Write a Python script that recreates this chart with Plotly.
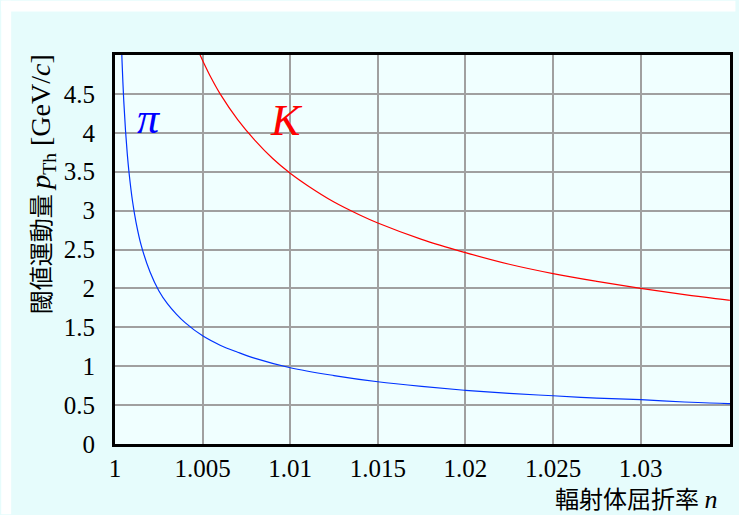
import plotly.graph_objects as go

# ---- data ----
pi_n = [1.00035, 1.0004, 1.0005, 1.0006, 1.0007, 1.0008, 1.001, 1.0012, 1.0015, 1.002,
        1.0025, 1.003, 1.0035, 1.004, 1.005, 1.006, 1.007, 1.008, 1.01, 1.0125, 1.015,
        1.0175, 1.02, 1.0225, 1.025, 1.0275, 1.03, 1.0325, 1.035, 1.0355]
pi_p = [5.28, 4.93, 4.41, 4.03, 3.73, 3.49, 3.12, 2.85, 2.55, 2.21,
        1.97, 1.80, 1.67, 1.56, 1.39, 1.27, 1.18, 1.10, 0.98, 0.88, 0.80,
        0.74, 0.69, 0.65, 0.62, 0.59, 0.57, 0.54, 0.52, 0.52]

k_n = [1.0048, 1.005, 1.0055, 1.006, 1.007, 1.008, 1.009, 1.01, 1.011, 1.0125, 1.014,
       1.015, 1.0175, 1.02, 1.0225, 1.025, 1.0275, 1.03, 1.0325, 1.035, 1.0355]
k_p = [5.03, 4.93, 4.70, 4.50, 4.17, 3.90, 3.67, 3.48, 3.32, 3.11, 2.94,
       2.84, 2.63, 2.46, 2.31, 2.19, 2.09, 2.00, 1.92, 1.85, 1.84]

x_ticks = [1, 1.005, 1.01, 1.015, 1.02, 1.025, 1.03]
x_labels = ["1", "1.005", "1.01", "1.015", "1.02", "1.025", "1.03"]
y_ticks = [0, 0.5, 1, 1.5, 2, 2.5, 3, 3.5, 4, 4.5]
y_labels = ["0", "0.5", "1", "1.5", "2", "2.5", "3", "3.5", "4", "4.5"]

# ---- layout geometry ----
W, H = 739, 515
L, R, T, B = 114.5, 5.5, 54.5, 70.5
PW, PH = W - L - R, H - T - B


def px(x):
    return (x - L) / PW


def py(y):
    return (H - B - y) / PH


SERIF = "Liberation Serif"
CJK = "Noto Sans CJK JP"
tickfont = dict(family="Liberation Serif, serif", size=25, color="black")

fig = go.Figure()
fig.add_trace(go.Scatter(x=pi_n, y=pi_p, mode="lines", line=dict(color="#0033ff", width=1.2, shape="spline"),
                         showlegend=False, hoverinfo="skip"))
fig.add_trace(go.Scatter(x=k_n, y=k_p, mode="lines", line=dict(color="#ff0000", width=1.2, shape="spline"),
                         showlegend=False, hoverinfo="skip"))

fig.update_layout(
    width=W, height=H,
    margin=dict(l=L, r=R, t=T, b=B, pad=0),
    paper_bgcolor="#e6fcfc",
    plot_bgcolor="#f0ffff",
    font=dict(family=SERIF, size=25, color="black"),
    xaxis=dict(range=[1, 1.0351], tickvals=x_ticks, ticktext=x_labels, showgrid=True, tickfont=tickfont,
               gridcolor="#a0a0a0", gridwidth=1.5, zeroline=False, showline=True, mirror=True,
               linecolor="black", linewidth=3.2, ticks="", ticklabelstandoff=0, fixedrange=True),
    yaxis=dict(range=[0, 5], tickvals=y_ticks, ticktext=y_labels, showgrid=True, tickfont=tickfont,
               gridcolor="#a0a0a0", gridwidth=1.5, zeroline=False, showline=True, mirror=True,
               linecolor="black", linewidth=3.2, ticks="", ticklabelstandoff=12, fixedrange=True),
    shapes=[
        dict(type="rect", xref="paper", yref="paper", x0=px(0), x1=px(W), y0=py(0), y1=py(11),
             fillcolor="white", line=dict(width=0), layer="below"),
        dict(type="rect", xref="paper", yref="paper", x0=px(0), x1=px(10), y0=py(0), y1=py(H),
             fillcolor="white", line=dict(width=0), layer="below"),
    ],
    annotations=[
        dict(text="<i>π</i>", x=1.00196, y=4.18, xref="x", yref="y", showarrow=False,
             font=dict(family=SERIF, size=44, color="#0000ff"), xanchor="center", yanchor="middle"),
        dict(text="<i>K</i>", x=1.00978, y=4.16, xref="x", yref="y", showarrow=False,
             font=dict(family=SERIF, size=44, color="#ff0000"), xanchor="center", yanchor="middle"),
        dict(text="閾値運動量 <span style='font-family:Liberation Serif;font-size:28px'><i>p</i><sub>Th</sub> [GeV/<i>c</i>]</span>",
             x=px(40), y=py(184), xref="paper", yref="paper", showarrow=False, textangle=-90,
             font=dict(family=CJK, size=24, color="black"), xanchor="center", yanchor="middle"),
        dict(text="輻射体屈折率 <span style='font-family:Liberation Serif;font-size:26px'><i>n</i></span>",
             x=px(722), y=py(498), xref="paper", yref="paper", showarrow=False,
             font=dict(family=CJK, size=24, color="black"), xanchor="right", yanchor="middle"),
    ],
)

fig.write_html("out.html")
